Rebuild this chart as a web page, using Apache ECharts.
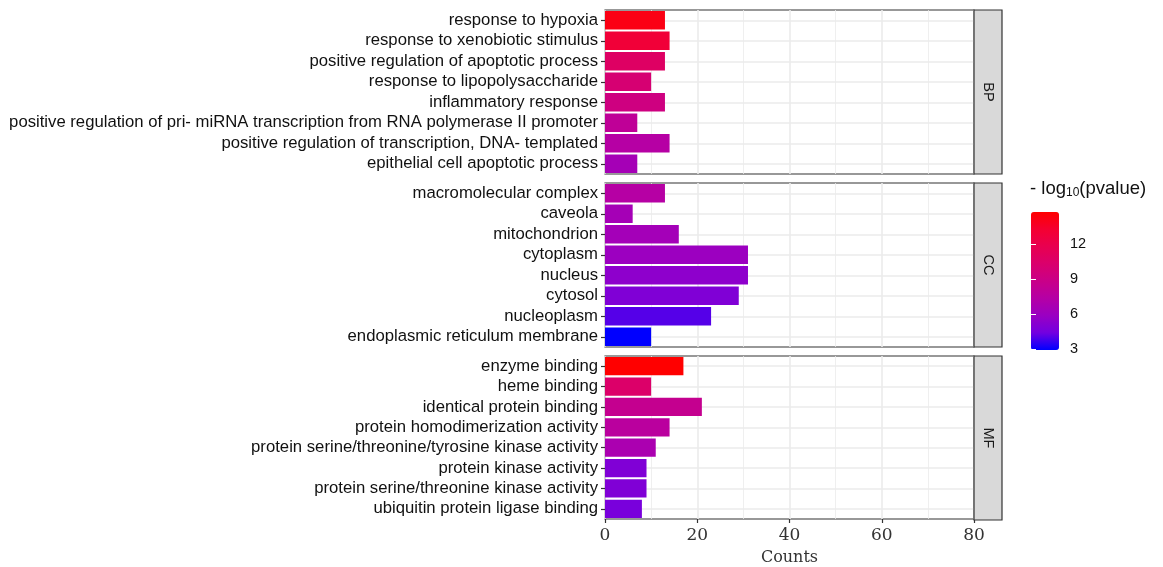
<!DOCTYPE html>
<html>
<head>
<meta charset="utf-8">
<script src="https://cdn.jsdelivr.net/npm/echarts@6/dist/echarts.min.js"></script>
<style>html,body{margin:0;padding:0;background:#fff}#c{width:1163px;height:567px}</style>
</head>
<body>
<div id="c"></div>
<script>
// ---- data ----
const facetNames = ['BP', 'CC', 'MF'];
const bpTerms = ['response to hypoxia', 'response to xenobiotic stimulus', 'positive regulation of apoptotic process', 'response to lipopolysaccharide', 'inflammatory response', 'positive regulation of pri- miRNA transcription from RNA polymerase II promoter', 'positive regulation of transcription, DNA- templated', 'epithelial cell apoptotic process'];
const bpCounts = [13, 14, 13, 10, 13, 7, 14, 7];
const bpLogP = [14.2, 13.0, 10.8, 10.0, 9.3, 8.1, 7.4, 6.5];
const ccTerms = ['macromolecular complex', 'caveola', 'mitochondrion', 'cytoplasm', 'nucleus', 'cytosol', 'nucleoplasm', 'endoplasmic reticulum membrane'];
const ccCounts = [13, 6, 16, 31, 31, 29, 23, 10];
const ccLogP = [7.4, 6.5, 6.4, 6.0, 5.4, 4.9, 4.0, 2.9];
const mfTerms = ['enzyme binding', 'heme binding', 'identical protein binding', 'protein homodimerization activity', 'protein serine/threonine/tyrosine kinase activity', 'protein kinase activity', 'protein serine/threonine kinase activity', 'ubiquitin protein ligase binding'];
const mfCounts = [17, 10, 21, 14, 11, 9, 9, 8];
const mfLogP = [14.8, 10.5, 8.5, 7.7, 6.8, 4.9, 4.9, 4.6];
const xTicks = [0, 20, 40, 60, 80];
const legendTicks = [3, 6, 9, 12];
const colorMin = 2.9, colorMax = 14.8;

// ---- layout ----
const panelLeft = 605, panelRight = 974, panelH = 164;
const panelTops = [10, 183, 356];
const stripW = 28;
const gradientStops = ['#0000ff', '#7300e0', '#9a00c2', '#b500a5', '#c90088', '#da006c', '#e80050', '#f40031', '#ff0000'];

const facets = [
  {terms: bpTerms, counts: bpCounts, logp: bpLogP},
  {terms: ccTerms, counts: ccCounts, logp: ccLogP},
  {terms: mfTerms, counts: mfCounts, logp: mfLogP}
];

const grids = [], xAxes = [], yAxes = [], series = [], graphics = [];
facets.forEach((f, i) => {
  grids.push({left: panelLeft, width: panelRight - panelLeft, top: panelTops[i], height: panelH,
    show: true, backgroundColor: '#fff', borderColor: '#333', borderWidth: 1.2});
  const last = i === facets.length - 1;
  xAxes.push({
    type: 'value', gridIndex: i, min: xTicks[0], max: xTicks[xTicks.length - 1], interval: 20,
    axisLine: {show: false},
    axisTick: {show: last, length: 4, lineStyle: {color: '#333', width: 1.2}},
    axisLabel: {show: last, margin: 8, color: '#333', fontFamily: 'DejaVu Serif', fontSize: 17},
    splitLine: {show: true, lineStyle: {color: '#ebebeb', width: 1.6}},
    minorTick: {show: false, splitNumber: 2},
    minorSplitLine: {show: true, lineStyle: {color: '#ebebeb', width: 0.8}},
    name: last ? 'Counts' : '', nameLocation: 'middle', nameGap: 31,
    nameTextStyle: {fontFamily: 'DejaVu Serif', fontSize: 16, color: '#333'}
  });
  yAxes.push({
    type: 'category', gridIndex: i, data: f.terms, inverse: true,
    axisLine: {show: false},
    axisTick: {show: true, alignWithLabel: true, interval: 0, length: 4, lineStyle: {color: '#333', width: 1.2}},
    axisLabel: {interval: 0, hideOverlap: false, color: '#111', fontFamily: 'Liberation Sans', fontSize: 16.7, margin: 7},
    splitLine: {show: false}
  });
  series.push({
    type: 'bar', xAxisIndex: i, yAxisIndex: i, z: 3, barCategoryGap: '10%',
    encode: {x: 0, y: 1},
    data: f.terms.map((t, j) => [f.counts[j], j, f.logp[j]])
  });
  series.push({
    type: 'line', xAxisIndex: i, yAxisIndex: i, z: 1, silent: true,
    symbol: 'none', lineStyle: {opacity: 0}, encode: {x: 0, y: 1},
    data: f.terms.map((t, j) => [f.counts[j], j]),
    markLine: {silent: true, z: 1, symbol: 'none', label: {show: false},
      lineStyle: {color: '#ebebeb', width: 1.6, type: 'solid'},
      emphasis: {disabled: true},
      data: f.terms.map((t, j) => ({yAxis: j}))}
  });
  graphics.push({type: 'rect', shape: {x: panelRight, y: panelTops[i], width: stripW, height: panelH},
    style: {fill: '#d9d9d9', stroke: '#333', lineWidth: 1.2}, z: 5});
  graphics.push({type: 'text', x: panelRight + stripW / 2, y: panelTops[i] + panelH / 2, rotation: -Math.PI / 2,
    style: {text: facetNames[i], fill: '#1a1a1a', font: '14.5px "Liberation Sans"', align: 'center', verticalAlign: 'middle'}, z: 6});
});

// legend axis grid
const lgLeft = 1031, lgTop = 212, lgW = 28, lgH = 138;
grids.push({left: lgLeft, top: lgTop, width: lgW, height: lgH, show: false});
xAxes.push({type: 'value', gridIndex: 3, show: false});
[ 'right', 'left' ].forEach((pos, k) => {
  yAxes.push({
    type: 'value', gridIndex: 3, position: pos, min: colorMin, max: colorMax, z: 10,
    axisLine: {show: false},
    axisTick: {show: true, inside: true, length: 5, lineStyle: {color: '#fff', width: 1}, customValues: legendTicks},
    axisLabel: {show: k === 0, inside: false, margin: 11, color: '#111', fontFamily: 'Liberation Sans', fontSize: 14.5, customValues: legendTicks},
    splitLine: {show: false}
  });
});

graphics.push({type: 'text', left: 1030, top: 179,
  style: {text: '- log{s|10}(pvalue)', font: '18.5px "Liberation Sans"', fill: '#111',
    rich: {s: {fontSize: 12, fontFamily: 'Liberation Sans', fill: '#111', padding: [8, 0, 0, 0]}}}});

const chart = echarts.init(document.getElementById('c'), null, {renderer: 'canvas'});
chart.setOption({
  animation: false,
  backgroundColor: '#fff',
  grid: grids, xAxis: xAxes, yAxis: yAxes, series: series,
  visualMap: {
    type: 'continuous', min: colorMin, max: colorMax, dimension: 2, seriesIndex: [0, 2, 4],
    inRange: {color: gradientStops}, calculable: false, hoverLink: false,
    left: lgLeft, top: lgTop, itemWidth: lgW, itemHeight: lgH, padding: 0, orient: 'vertical', text: null, z: 4
  },
  graphic: graphics
});
</script>
</body>
</html>
